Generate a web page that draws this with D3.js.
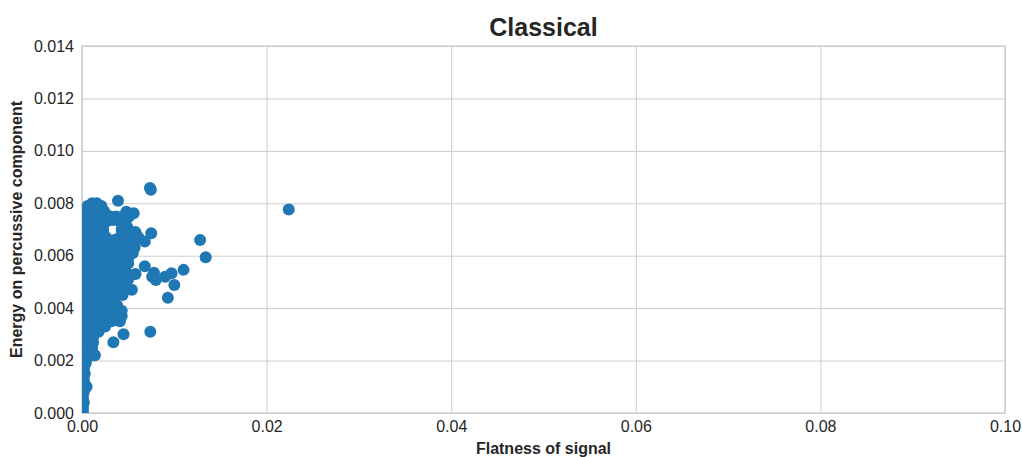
<!DOCTYPE html>
<html lang="en">

<head>
  <meta charset="UTF-8">
  <title>Classical</title>
  <style>
    html,
    body {
      margin: 0;
      width: 100%;
      height: 100%;
      overflow: hidden;
      background: #fff;
    }

    svg {
      display: block;
      font-family: "Liberation Sans", Arial, sans-serif;
    }

    .tick text {
      font-size: 16px;
      fill: #262626;
    }

    .tick line {
      stroke: #cccccc;
      stroke-width: 1;
    }
  </style>
</head>

<body>
  <div id="chart"></div>

  <script src="https://cdn.jsdelivr.net/npm/d3@7"></script>
  <script>
    const title = 'Classical'
    const xLabel = 'Flatness of signal'
    const yLabel = 'Energy on percussive component'

    const xTicks = [0, 0.02, 0.04, 0.06, 0.08, 0.1]
    const yTicks = [0, 0.002, 0.004, 0.006, 0.008, 0.01, 0.012, 0.014]

    // spectral flatness per track (x) -- dense cluster near zero, a few outliers
    const flatness = [
      0.0006, 0.0011, 0.0016, 0.0021, 0.0039,
      0.0005, 0.0009, 0.0014, 0.0019, 0.0024, 0.0048, 0.0056,
      0.0002, 0.0007, 0.0013, 0.0019, 0.0025, 0.0031, 0.0037, 0.0044, 0.0051,
      0.0002, 0.0008, 0.0014, 0.0020, 0.0026, 0.0041, 0.0047, 0.0033,
      0.0002, 0.0008, 0.0014, 0.0019, 0.0049, 0.0023, 0.0043,
      0.0002, 0.0008, 0.0013, 0.0052, 0.0058, 0.0075,
      0.0002, 0.0008, 0.0014, 0.0020, 0.0026, 0.0041, 0.0047, 0.0055, 0.0061, 0.0035,
      0.0002, 0.0008, 0.0014, 0.0020, 0.0026, 0.0032, 0.0038, 0.0044, 0.0050, 0.0056, 0.0068,
      0.0002, 0.0008, 0.0014, 0.0020, 0.0027, 0.0033, 0.0039, 0.0045, 0.0051, 0.0057,
      0.0002, 0.0008, 0.0014, 0.0020, 0.0026, 0.0032, 0.0038, 0.0044, 0.0050, 0.0055,
      0.0002, 0.0008, 0.0014, 0.0020, 0.0026, 0.0032, 0.0038, 0.0044, 0.0050,
      0.0002, 0.0008, 0.0014, 0.0020, 0.0026, 0.0032, 0.0038, 0.0044, 0.0050, 0.0068,
      0.0002, 0.0008, 0.0014, 0.0020, 0.0026, 0.0032, 0.0038, 0.0044,
      0.0002, 0.0008, 0.0014, 0.0020, 0.0026, 0.0032, 0.0038, 0.0044, 0.0050, 0.0058,
      0.0078, 0.0076, 0.0080, 0.0090, 0.0097, 0.0110, 0.0100, 0.0093,
      0.0002, 0.0008, 0.0014, 0.0020, 0.0026, 0.0032, 0.0038, 0.0044, 0.0050,
      0.0002, 0.0008, 0.0014, 0.0020, 0.0026, 0.0032, 0.0038, 0.0045,
      0.0002, 0.0008, 0.0014, 0.0020, 0.0026, 0.0032, 0.0038, 0.0044, 0.0054,
      0.0002, 0.0008, 0.0014, 0.0020, 0.0026, 0.0032, 0.0038, 0.0044,
      0.0002, 0.0008, 0.0014, 0.0020, 0.0026, 0.0031,
      0.0002, 0.0008, 0.0014, 0.0020, 0.0026, 0.0032, 0.0038,
      0.0002, 0.0008, 0.0014, 0.0020, 0.0026, 0.0032, 0.0038, 0.0043,
      0.0002, 0.0008, 0.0014, 0.0020, 0.0026, 0.0032, 0.0043,
      0.0002, 0.0008, 0.0014, 0.0020, 0.0026, 0.0032, 0.0041,
      0.0002, 0.0008, 0.0014, 0.0020, 0.0025,
      0.0002, 0.0008, 0.0013, 0.0018, 0.0045, 0.0034, 0.0074,
      0.0002, 0.0007, 0.0012,
      0.0002, 0.0007, 0.0012,
      0.0002, 0.0007, 0.0011,
      0.0002, 0.0007, 0.0014,
      0.0002, 0.0006,
      0.0001, 0.0004,
      0.0002,
      0.0001, 0.0003,
      0.0002,
      0.0003,
      0.0005,
      0.0002,
      0.0001,
      0.0002,
      0.0001,
      0.0001,
      0.0128, 0.0134, 0.0224, 0.00736, 0.00746
    ]

    // energy on percussive component per track (y), same order as flatness
    const energy = [
      0.0079, 0.0080, 0.0080, 0.0079, 0.0081,
      0.0077, 0.0077, 0.0077, 0.0077, 0.0077, 0.00768, 0.00762,
      0.0075, 0.0075, 0.0075, 0.0075, 0.0075, 0.0075, 0.0075, 0.0075, 0.0075,
      0.0073, 0.0073, 0.0073, 0.0073, 0.0073, 0.0073, 0.0073, 0.00736,
      0.0071, 0.0071, 0.0071, 0.0071, 0.0071, 0.0070, 0.0070,
      0.0069, 0.0069, 0.0069, 0.0069, 0.0069, 0.00686,
      0.0067, 0.0067, 0.0067, 0.0067, 0.0067, 0.0067, 0.0067, 0.0067, 0.0067, 0.0066,
      0.0065, 0.0065, 0.0065, 0.0065, 0.0065, 0.0065, 0.0065, 0.0065, 0.0065, 0.0065, 0.00654,
      0.0063, 0.0063, 0.0063, 0.0063, 0.0063, 0.0063, 0.0063, 0.0063, 0.0063, 0.0063,
      0.0061, 0.0061, 0.0061, 0.0061, 0.0061, 0.0061, 0.0061, 0.0061, 0.0061, 0.0061,
      0.0059, 0.0059, 0.0059, 0.0059, 0.0059, 0.0059, 0.0059, 0.0059, 0.0059,
      0.0057, 0.0057, 0.0057, 0.0057, 0.0057, 0.0057, 0.0057, 0.0057, 0.0057, 0.0056,
      0.0055, 0.0055, 0.0055, 0.0055, 0.0055, 0.0055, 0.0055, 0.0055,
      0.0053, 0.0053, 0.0053, 0.0053, 0.0053, 0.0053, 0.0053, 0.0053, 0.0053, 0.0053,
      0.00535, 0.0052, 0.00507, 0.0052, 0.00533, 0.00546, 0.00488, 0.0044,
      0.0051, 0.0051, 0.0051, 0.0051, 0.0051, 0.0051, 0.0051, 0.0051, 0.0051,
      0.0049, 0.0049, 0.0049, 0.0049, 0.0049, 0.0049, 0.0049, 0.0049,
      0.0047, 0.0047, 0.0047, 0.0047, 0.0047, 0.0047, 0.0047, 0.0047, 0.0047,
      0.0045, 0.0045, 0.0045, 0.0045, 0.0045, 0.0045, 0.0045, 0.0045,
      0.0043, 0.0043, 0.0043, 0.0043, 0.0043, 0.0043,
      0.0041, 0.0041, 0.0041, 0.0041, 0.0041, 0.0041, 0.0041,
      0.0039, 0.0039, 0.0039, 0.0039, 0.0039, 0.0039, 0.0039, 0.0039,
      0.0037, 0.0037, 0.0037, 0.0037, 0.0037, 0.0037, 0.0037,
      0.0035, 0.0035, 0.0035, 0.0035, 0.0035, 0.0035, 0.0035,
      0.0033, 0.0033, 0.0033, 0.0033, 0.0033,
      0.0031, 0.0031, 0.0031, 0.0031, 0.0030, 0.0027, 0.0031,
      0.0029, 0.0029, 0.0029,
      0.0027, 0.0027, 0.0027,
      0.0025, 0.0025, 0.0025,
      0.0023, 0.0023, 0.0022,
      0.0021, 0.0021,
      0.0019, 0.0019,
      0.0017,
      0.0015, 0.0015,
      0.0013,
      0.0011,
      0.0010,
      0.0008,
      0.0006,
      0.0004,
      0.0002,
      0.00005,
      0.0066, 0.00594, 0.00776, 0.00858, 0.00852
    ]

    const width = 1022
    const height = 457
    const margin = { top: 46, right: 17, bottom: 44, left: 82 }
    const plotW = width - margin.left - margin.right
    const plotH = height - margin.top - margin.bottom

    const x = d3.scaleLinear().domain([0, 0.1]).range([0, plotW])
    const y = d3.scaleLinear().domain([0, 0.014]).range([plotH, 0])

    const svg = d3.select('#chart').append('svg')
      .attr('width', width)
      .attr('height', height)

    svg.append('defs').append('clipPath')
      .attr('id', 'plot-clip')
      .append('rect')
      .attr('width', plotW)
      .attr('height', plotH)

    const g = svg.append('g')
      .attr('transform', `translate(${margin.left},${margin.top})`)

    // grid + tick labels
    const xAxis = g.append('g')
      .attr('transform', `translate(0,${plotH})`)
      .call(d3.axisBottom(x)
        .tickValues(xTicks)
        .tickFormat(d3.format('.2f'))
        .tickSize(-plotH)
        .tickPadding(8))
    xAxis.select('.domain').remove()

    const yAxis = g.append('g')
      .call(d3.axisLeft(y)
        .tickValues(yTicks)
        .tickFormat(d3.format('.3f'))
        .tickSize(-plotW)
        .tickPadding(8))
    yAxis.select('.domain').remove()

    // frame
    g.append('rect')
      .attr('width', plotW)
      .attr('height', plotH)
      .attr('fill', 'none')
      .attr('stroke', '#cccccc')
      .attr('stroke-width', 1.25)

    // points
    g.append('g')
      .attr('clip-path', 'url(#plot-clip)')
      .selectAll('circle')
      .data(flatness.map((f, i) => [f, energy[i]]))
      .join('circle')
      .attr('cx', d => x(d[0]))
      .attr('cy', d => y(d[1]))
      .attr('r', 6)
      .attr('fill', '#1f77b4')

    // title and axis labels
    svg.append('text')
      .attr('x', margin.left + plotW / 2)
      .attr('y', 36)
      .attr('text-anchor', 'middle')
      .style('font-size', '25px')
      .style('font-weight', 'bold')
      .style('fill', '#262626')
      .text(title)

    svg.append('text')
      .attr('x', margin.left + plotW / 2)
      .attr('y', 454)
      .attr('text-anchor', 'middle')
      .style('font-size', '16px')
      .style('font-weight', 'bold')
      .style('fill', '#262626')
      .text(xLabel)

    svg.append('text')
      .attr('transform', `translate(22,${margin.top + plotH / 2}) rotate(-90)`)
      .attr('text-anchor', 'middle')
      .style('font-size', '16px')
      .style('font-weight', 'bold')
      .style('fill', '#262626')
      .text(yLabel)
  </script>
</body>

</html>
